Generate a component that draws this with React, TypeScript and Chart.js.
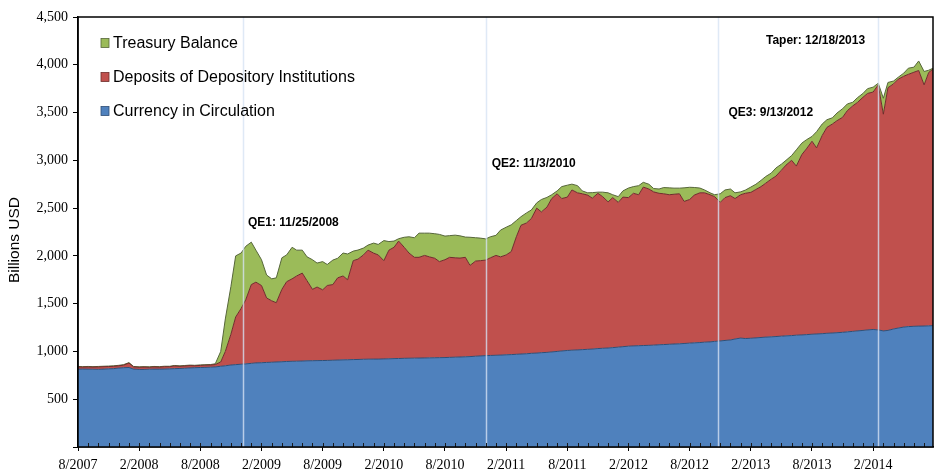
import React, { useEffect, useRef } from "react";
import { Chart, registerables } from "chart.js";
Chart.register(...registerables);

// Semi-monthly observation dates
const dates = [
  "2007-08-01","2007-08-15","2007-09-01","2007-09-15","2007-10-01","2007-10-15","2007-11-01","2007-11-15","2007-12-01","2007-12-15",
  "2008-01-01","2008-01-15","2008-02-01","2008-02-15","2008-03-01","2008-03-15","2008-04-01","2008-04-15","2008-05-01","2008-05-15","2008-06-01","2008-06-15",
  "2008-07-01","2008-07-15","2008-08-01","2008-08-15","2008-09-01","2008-09-15","2008-10-01","2008-10-15","2008-11-01","2008-11-15","2008-12-01","2008-12-15",
  "2009-01-01","2009-01-15","2009-02-01","2009-02-15","2009-03-01","2009-03-15","2009-04-01","2009-04-15","2009-05-01","2009-05-15","2009-06-01","2009-06-15",
  "2009-07-01","2009-07-15","2009-08-01","2009-08-15","2009-09-01","2009-09-15","2009-10-01","2009-10-15","2009-11-01","2009-11-15","2009-12-01","2009-12-15",
  "2010-01-01","2010-01-15","2010-02-01","2010-02-15","2010-03-01","2010-03-15","2010-04-01","2010-04-15","2010-05-01","2010-05-15","2010-06-01","2010-06-15",
  "2010-07-01","2010-07-15","2010-08-01","2010-08-15","2010-09-01","2010-09-15","2010-10-01","2010-10-15","2010-11-01","2010-11-15","2010-12-01","2010-12-15",
  "2011-01-01","2011-01-15","2011-02-01","2011-02-15","2011-03-01","2011-03-15","2011-04-01","2011-04-15","2011-05-01","2011-05-15","2011-06-01","2011-06-15",
  "2011-07-01","2011-07-15","2011-08-01","2011-08-15","2011-09-01","2011-09-15","2011-10-01","2011-10-15","2011-11-01","2011-11-15","2011-12-01","2011-12-15",
  "2012-01-01","2012-01-15","2012-02-01","2012-02-15","2012-03-01","2012-03-15","2012-04-01","2012-04-15","2012-05-01","2012-05-15","2012-06-01","2012-06-15",
  "2012-07-01","2012-07-15","2012-08-01","2012-08-15","2012-09-01","2012-09-15","2012-10-01","2012-10-15","2012-11-01","2012-11-15","2012-12-01","2012-12-15",
  "2013-01-01","2013-01-15","2013-02-01","2013-02-15","2013-03-01","2013-03-15","2013-04-01","2013-04-15","2013-05-01","2013-05-15","2013-06-01","2013-06-15",
  "2013-07-01","2013-07-15","2013-08-01","2013-08-15","2013-09-01","2013-09-15","2013-10-01","2013-10-15","2013-11-01","2013-11-15","2013-12-01","2013-12-15",
  "2014-01-01","2014-01-15","2014-02-01","2014-02-15","2014-03-01","2014-03-15","2014-04-01","2014-04-15","2014-05-01","2014-05-15","2014-06-01","2014-06-15",
  "2014-07-01","2014-07-15","2014-07-28",
];

// Billions USD
const currency = [
  815,816,815,814,813,815,818,820,826,830,
  832,815,812,812,814,815,815,816,818,820,822,824,828,830,832,833,835,838,845,850,858,862,866,870,
  875,880,882,885,887,890,892,895,897,898,900,902,903,904,905,906,908,910,912,913,915,916,918,919,
  920,920,922,923,925,926,928,929,930,931,932,933,934,935,936,938,940,942,944,946,950,953,956,958,
  960,962,965,967,970,973,976,980,983,987,990,995,1000,1005,1010,1013,1016,1019,1022,1025,1030,1033,1036,1040,
  1045,1050,1055,1058,1060,1062,1064,1066,1070,1072,1075,1078,1080,1083,1087,1090,1093,1097,1100,1105,1110,1115,1120,1130,
  1140,1135,1138,1142,1146,1150,1153,1156,1160,1163,1166,1170,1173,1176,1180,1183,1186,1190,1193,1196,1200,1205,1210,1215,
  1220,1225,1230,1225,1215,1220,1235,1245,1255,1260,1263,1265,1266,1268,1270,
];

const deposits = [
  23,20,23,22,25,25,24,24,24,26,
  46,23,22,24,20,23,21,24,22,28,22,24,24,20,22,23,23,25,45,150,322,498,584,670,
  825,845,808,675,643,620,758,835,863,892,920,838,747,770,740,784,792,860,878,837,1035,1050,1092,1141,
  1109,1090,1028,1137,1165,1229,1162,1101,1055,1054,1073,1057,1041,1005,1024,1047,1040,1035,1041,954,996,997,1000,1022,
  1045,1028,1045,1078,1230,1347,1369,1410,1517,1473,1520,1605,1650,1595,1605,1677,1644,1631,1614,1579,1625,1587,1529,1570,
  1515,1565,1555,1597,1580,1658,1636,1604,1585,1578,1565,1567,1570,1487,1503,1546,1567,1563,1540,1515,1450,1495,1510,1470,
  1500,1520,1527,1553,1579,1610,1650,1679,1737,1787,1834,1770,1887,1944,2020,1947,2074,2155,2187,2219,2250,2315,2360,2390,
  2440,2475,2485,2565,2268,2540,2565,2605,2625,2640,2659,2675,2524,2652,2684,
];

const treasury = [
  5,5,5,5,5,5,5,5,5,5,
  5,5,5,5,5,5,5,5,5,5,5,5,5,5,5,5,5,8,110,340,500,640,580,560,
  444,335,270,240,230,260,330,280,330,270,240,250,310,251,295,220,256,205,240,270,100,95,72,53,
  105,110,210,90,65,25,105,170,205,253,233,248,257,285,247,227,237,233,212,295,244,236,222,220,
  210,280,290,280,170,90,105,90,55,130,102,40,30,125,125,61,75,30,24,58,12,47,95,30,
  60,65,100,70,95,50,50,35,45,65,72,64,59,142,128,80,50,30,20,20,90,80,70,60,
  30,33,55,55,65,70,63,85,63,50,50,170,120,95,50,170,120,80,65,80,90,70,38,50,
  40,50,51,17,167,55,30,20,32,64,53,100,140,23,10,
];

const seriesNames = ["Currency in Circulation", "Deposits of Depository Institutions", "Treasury Balance"];
const seriesFills = ["#4F81BD", "#C0504D", "#9BBB59"];
const seriesEdges = ["#2E4E76", "#6E2D2B", "#56663A"];

const yTickValues = [0, 500, 1000, 1500, 2000, 2500, 3000, 3500, 4000, 4500];
const xTickMonths = [0, 6, 12, 18, 24, 30, 36, 42, 48, 54, 60, 66, 72, 78];

const eventLabels = ["QE1: 11/25/2008", "QE2: 11/3/2010", "QE3: 9/13/2012", "Taper: 12/18/2013"];
// where the event lines sit on the chart's date axis (as drawn)
const eventLineDates = ["2008-12-07", "2010-12-01", "2012-10-25", "2014-02-15"];
// anchor (left edge, vertical centre) of each event label
const eventLabelDates = ["2008-12-22", "2010-12-19", "2012-11-25", "2013-03-16"];
const eventLabelValues = [2345, 2970, 3495, 4257];

const dateToMonth = (s: string) => {
  const [y, m, d] = s.split("-").map(Number);
  const dim = new Date(y, m, 0).getDate();
  return (y - 2007) * 12 + (m - 8) + (d - 1) / dim;
};
const monthLabel = (v: number) => {
  const t = 7 + Math.round(v);
  return `${(t % 12) + 1}/${2007 + Math.floor(t / 12)}`;
};

const SERIF = '"Liberation Serif", "Times New Roman", serif';
const SANS = '"Liberation Sans", Arial, sans-serif';

export default function App() {
  const ref = useRef<HTMLCanvasElement | null>(null);

  useEffect(() => {
    document.body.style.margin = "0";
    const canvas = ref.current;
    if (!canvas) return;
    const xs = dates.map(dateToMonth);
    const mk = (arr: number[]) => arr.map((v, i) => ({ x: xs[i], y: v }));
    const series = [currency, deposits, treasury];

    const overlay = {
      id: "overlay",
      afterDatasetsDraw(chart: any) {
        const { ctx, chartArea } = chart;
        const xS = chart.scales.x;
        const yS = chart.scales.y;
        ctx.save();
        // event lines
        ctx.strokeStyle = "rgba(214,227,243,0.78)";
        ctx.lineWidth = 1.5;
        eventLineDates.forEach((d) => {
          const px = Math.round(xS.getPixelForValue(dateToMonth(d))) + 0.5;
          ctx.beginPath();
          ctx.moveTo(px, chartArea.top);
          ctx.lineTo(px, chartArea.bottom);
          ctx.stroke();
        });
        // monthly minor ticks (inside)
        ctx.strokeStyle = "#1a1a1a";
        ctx.lineWidth = 1;
        for (let m = 1; m < xS.max; m++) {
          const px = Math.round(xS.getPixelForValue(m)) + 0.5;
          ctx.beginPath();
          ctx.moveTo(px, chartArea.bottom);
          ctx.lineTo(px, chartArea.bottom - 4);
          ctx.stroke();
        }
        // plot frame
        ctx.strokeStyle = "#000";
        ctx.lineWidth = 1.5;
        ctx.strokeRect(chartArea.left, chartArea.top, chartArea.right - chartArea.left, chartArea.bottom - chartArea.top);
        // event labels
        ctx.fillStyle = "#000";
        ctx.font = `bold 12px ${SANS}`;
        ctx.textAlign = "left";
        ctx.textBaseline = "middle";
        eventLabels.forEach((t, i) => {
          ctx.fillText(t, xS.getPixelForValue(dateToMonth(eventLabelDates[i])), yS.getPixelForValue(eventLabelValues[i]));
        });
        // legend
        const order = [2, 1, 0];
        const rowY = [43, 77, 111];
        ctx.font = `16px ${SANS}`;
        order.forEach((di, i) => {
          const ds = chart.data.datasets[di];
          ctx.fillStyle = ds.backgroundColor;
          ctx.fillRect(101, rowY[i] - 4.5, 8, 9);
          ctx.strokeStyle = ds.borderColor;
          ctx.lineWidth = 0.8;
          ctx.strokeRect(101, rowY[i] - 4.5, 8, 9);
          ctx.fillStyle = "#000";
          ctx.fillText(ds.label, 113, rowY[i] + 1);
        });
        // y title
        ctx.translate(15, 240);
        ctx.rotate(-Math.PI / 2);
        ctx.textAlign = "center";
        ctx.font = `15.5px ${SANS}`;
        ctx.fillText("Billions USD", 0, 0);
        ctx.restore();
      },
    };

    const chart = new Chart(canvas, {
      type: "line",
      data: {
        datasets: series.map((arr, i) => ({
          label: seriesNames[i],
          data: mk(arr),
          backgroundColor: seriesFills[i],
          borderColor: seriesEdges[i],
          borderWidth: 1,
          fill: i === 0 ? "origin" : "-1",
          pointRadius: 0,
          tension: 0,
        })),
      },
      options: {
        responsive: false,
        animation: false,
        devicePixelRatio: window.devicePixelRatio || 1,
        layout: { padding: { left: 8, right: 8, top: 17, bottom: 0 } },
        plugins: { legend: { display: false }, tooltip: { enabled: false } },
        scales: {
          x: {
            type: "linear",
            min: xs[0],
            max: xs[xs.length - 1],
            afterBuildTicks: (s: any) => {
              s.ticks = xTickMonths.map((v) => ({ value: v }));
            },
            afterFit: (s: any) => {
              s.height = 28;
            },
            ticks: {
              autoSkip: false,
              maxRotation: 0,
              padding: 6,
              color: "#000",
              font: { family: SERIF, size: 14 },
              callback: (v: any) => monthLabel(Number(v)),
            },
            grid: { drawOnChartArea: false, drawTicks: true, tickLength: 4, color: "#000" },
            border: { display: true, color: "#000", width: 1.5 },
          },
          y: {
            stacked: true,
            min: 0,
            max: 4500,
            afterBuildTicks: (s: any) => {
              s.ticks = yTickValues.map((v) => ({ value: v }));
            },
            afterFit: (s: any) => {
              s.width = 70;
            },
            ticks: {
              padding: 5,
              color: "#000",
              font: { family: SERIF, size: 14 },
              callback: (v: any) => (Number(v) === 0 ? "" : Number(v).toLocaleString("en-US")),
            },
            grid: { drawOnChartArea: false, drawTicks: true, tickLength: 5, color: "#000" },
            border: { display: true, color: "#000", width: 1.5 },
          },
        },
      },
      plugins: [overlay],
    } as any);
    return () => chart.destroy();
  }, []);

  return <canvas ref={ref} width={941} height={475} style={{ display: "block" }} />;
}
